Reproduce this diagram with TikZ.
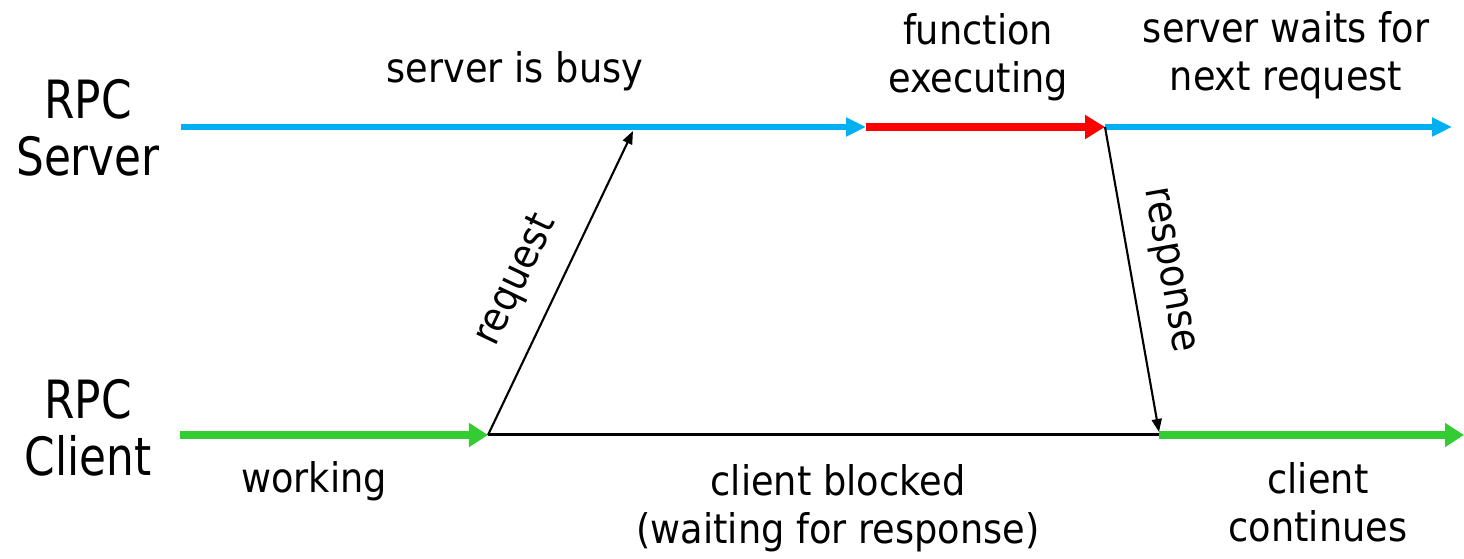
\documentclass[tikz,border=0pt]{standalone}
\usepackage{tikz}
\usetikzlibrary{arrows.meta}
\usepackage{fontspec}
\setmainfont{DejaVu Sans}[FakeStretch=0.9]
\newfontfamily\sidefont{DejaVu Sans}[FakeStretch=0.83]
\definecolor{SrvBlue}{HTML}{00B0F0}
\definecolor{ExecRed}{HTML}{FF0000}
\definecolor{CliGreen}{HTML}{33CC33}

\begin{document}
\begin{tikzpicture}[
    x=0.01cm, y=-0.01cm,
    srvline/.style={SrvBlue, line width=1.7pt, -{Triangle[length=0.2cm, width=0.18cm]}},
    execline/.style={ExecRed, line width=2.3pt, -{Triangle[length=0.2cm, width=0.23cm]}},
    cliline/.style={CliGreen, line width=2.3pt, -{Triangle[length=0.19cm, width=0.23cm]}},
    blockline/.style={black, line width=0.85pt},
    msg/.style={black, line width=0.6pt, -{Triangle[length=0.13cm, width=0.1cm]}},
    lbl/.style={font=\fontsize{11.6}{13.66}\selectfont, align=center, inner sep=2pt},
    side/.style={font=\sidefont\fontsize{15}{16.2}\selectfont, align=center, inner sep=0pt}
]
\useasboundingbox (0,0) rectangle (1464,559);

% =============================================
% Time lines
% =============================================
\coordinate (s0) at (181,127);
\coordinate (s1) at (866,127);
\coordinate (s2) at (1105,127);
\coordinate (s3) at (1452,127);
\coordinate (sreq) at (633,131);

\coordinate (c0) at (180,435);
\coordinate (c1) at (488,435);
\coordinate (c2) at (1159,435);
\coordinate (c3) at (1464,435);
\coordinate (cresp) at (1159,432);

% server
\draw[srvline] (s0) -- (s1);
\draw[execline] (s1) -- (s2);
\draw[srvline] (s2) -- (s3);

% client
\draw[blockline] (c1) -- (c2);
\draw[cliline] (c0) -- (c1);
\draw[cliline] (c2) -- (c3);

% =============================================
% Messages
% =============================================
\draw[msg] (c1) -- (sreq)
    node[lbl, pos=0.45, sloped, above=4pt] (req) {request};
\draw[msg] (s2) -- (cresp)
    node[lbl, pos=0.49, sloped, above=3.5pt] (resp) {response};

% =============================================
% Labels
% =============================================
\node[side] (server) at (88,128) {RPC\\Server};
\node[side] (client) at (88,428) {RPC\\Client};

\node[lbl] (busy) at (515,71) {server is busy};
\node[lbl] (exec) at (978,57) {function\\executing};
\node[lbl] (wait) at (1286,55) {server waits for\\next request};

\node[lbl] (work) at (314,481) {working};
\node[lbl] (blocked) at (838,508) {client blocked\\(waiting for response)};
\node[lbl] (cont) at (1318,502) {client\\continues};

\end{tikzpicture}
\end{document}
